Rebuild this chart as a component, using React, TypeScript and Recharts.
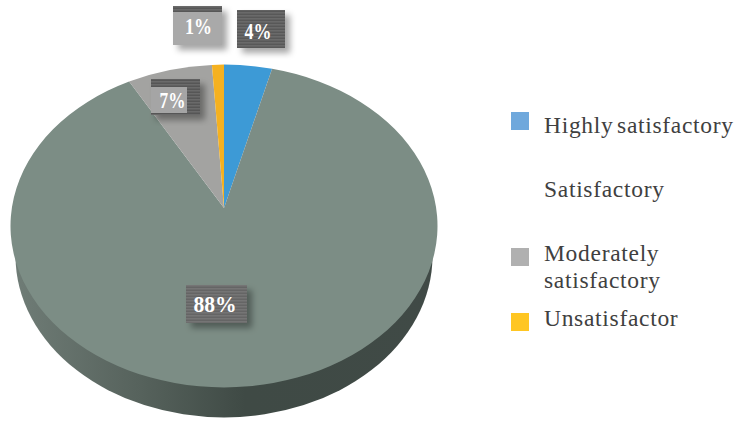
import React from "react";
import { PieChart, Pie, Cell, Legend } from "recharts";

const categories = ["Highly satisfactory", "Satisfactory", "Moderately satisfactory", "Unsatisfactor"];
const values = [4, 88, 7, 1];
const colors = ["#3d9ad6", "#7c8d85", "#a3a3a1", "#f5b120"];
const legendColors = ["#6fa8dc", "transparent", "#b0b0b0", "#ffc622"];
const legendLines = [["Highly satisfactory"], ["Satisfactory"], ["Moderately", "satisfactory"], ["Unsatisfactor"]];
const data = categories.map((name, i) => ({ name, value: values[i] }));

const W = 738, H = 423;
const CX = 224, CY = 226, RX = 213.5, Y_RATIO = 161 / 213, APEX = 18, DEPTH = 30, WALL_INSET = 5;
const rad = Math.PI / 180;

const labelBoxes = [
  { x: 237, y: 10, w: 48, h: 38, fill: "url(#st4)", tx: 258, ty: 39, sx: 0.75 },
  { x: 186, y: 285, w: 61, h: 38, fill: "url(#st88)", tx: 215, ty: 312, sx: 0.9 },
  { x: 151, y: 79, w: 49, h: 36, fill: "url(#st7)", tx: 172.5, ty: 108, sx: 0.72 },
  { x: 173, y: 6, w: 49, h: 39, fill: "url(#st1)", tx: 198.5, ty: 34, sx: 0.75 },
];

// Foreshortening of the tilted disc: edges near the top of the pie sit closer together.
const warp = (a: number) => {
  const phi = (90 - a) * rad;
  return 90 - (phi - 0.05 * Math.sin(2 * phi)) / rad;
};

function EllipticSector(props: any) {
  const { cx, cy, outerRadius, startAngle, endAngle, fill, index } = props;
  const ry = outerRadius * Y_RATIO;
  const px = (a: number) => cx + outerRadius * Math.cos(warp(a) * rad);
  const py = (a: number) => cy - ry * Math.sin(warp(a) * rad);
  const large = Math.abs(endAngle - startAngle) > 180 ? 1 : 0;
  const sweep = startAngle > endAngle ? 1 : 0;
  const d = `M${cx},${cy - APEX}L${px(startAngle)},${py(startAngle)}A${outerRadius},${ry} 0 ${large} ${sweep} ${px(endAngle)},${py(endAngle)}Z`;
  const wr = outerRadius - WALL_INSET;
  const wy = cy + DEPTH;
  const wall = `M${cx - wr},${wy}A${wr},${ry} 0 0 0 ${cx + wr},${wy}Z`;
  return (
    <g>
      {index === 1 && <path d={wall} fill="url(#wallGrad)" />}
      <path d={d} fill={fill} />
    </g>
  );
}

function PctLabel(props: any) {
  const { index, value } = props;
  const b = labelBoxes[index];
  return (
    <g>
      <rect x={b.x} y={b.y} width={b.w} height={b.h} fill={b.fill} filter="url(#boxShadow)" />
      {index === 2 && <rect x={b.x} y={b.y + 8} width={36} height={26} fill="#a5a5a5" />}
      {index === 3 && <rect x={b.x} y={b.y} width={b.w} height={6} fill="url(#st7)" />}
      <text transform={`translate(${b.tx},${b.ty}) scale(${b.sx},1)`} textAnchor="middle" fill="#ffffff" fontFamily="Liberation Serif" fontWeight="bold" fontSize={24}>{value}%</text>
    </g>
  );
}

function stripes(id: string, a: string, b: string) {
  return (
    <pattern id={id} width={3} height={3} patternUnits="userSpaceOnUse">
      <rect width={3} height={3} fill={a} />
      <rect width={3} height={1.5} fill={b} />
    </pattern>
  );
}

function LegendBlock() {
  const tops = [112, 176, 240, 305];
  const swatchTops = [112, 0, 248, 313];
  return (
    <div style={{ position: "relative", width: W, height: H, pointerEvents: "none" }}>
      {legendLines.map((lines, i) => (
        <React.Fragment key={i}>
          {i !== 1 && <div style={{ position: "absolute", left: 511, top: swatchTops[i], width: 18, height: 18, background: legendColors[i] }} />}
          <div style={{ position: "absolute", left: 544, top: tops[i], fontFamily: "Liberation Serif", fontSize: 23.5, letterSpacing: 0.7, wordSpacing: -3, lineHeight: "27px", color: "#404040", whiteSpace: "nowrap" }}>
            {lines.map((l) => <div key={l}>{l}</div>)}
          </div>
        </React.Fragment>
      ))}
    </div>
  );
}

export default function App() {
  return (
    <div style={{ position: "absolute", left: 0, top: 0, width: W, height: H, background: "#fff" }}>
      <PieChart width={W} height={H} margin={{ top: 0, right: 0, bottom: 0, left: 0 }}>
        <defs>
          <linearGradient id="wallGrad" x1="0" x2="1" y1="0" y2="0">
            <stop offset="0" stopColor="#6f7c76" />
            <stop offset="0.3" stopColor="#56625c" />
            <stop offset="0.55" stopColor="#3f4a45" />
            <stop offset="1" stopColor="#404a46" />
          </linearGradient>
          {stripes("st4", "#595959", "#6b6b6b")}
          {stripes("st88", "#656565", "#757575")}
          {stripes("st7", "#575757", "#6a6a6a")}
          {stripes("st1", "#a9a9a9", "#a9a9a9")}
          <filter id="boxShadow" x="-20%" y="-20%" width="150%" height="150%">
            <feDropShadow dx={5} dy={5} stdDeviation={3} floodColor="#000" floodOpacity={0.35} />
          </filter>
        </defs>
        <Pie
          data={data}
          dataKey="value"
          nameKey="name"
          cx={CX}
          cy={CY}
          outerRadius={RX}
          startAngle={90}
          endAngle={-270}
          stroke="none"
          paddingAngle={0}
          shape={EllipticSector}
          label={PctLabel}
          labelLine={false}
          isAnimationActive={false}
        >
          {data.map((d, i) => <Cell key={d.name} fill={colors[i]} />)}
        </Pie>
        <Legend content={LegendBlock} wrapperStyle={{ left: 0, top: 0, bottom: "auto", width: W, height: H }} />
      </PieChart>
    </div>
  );
}
